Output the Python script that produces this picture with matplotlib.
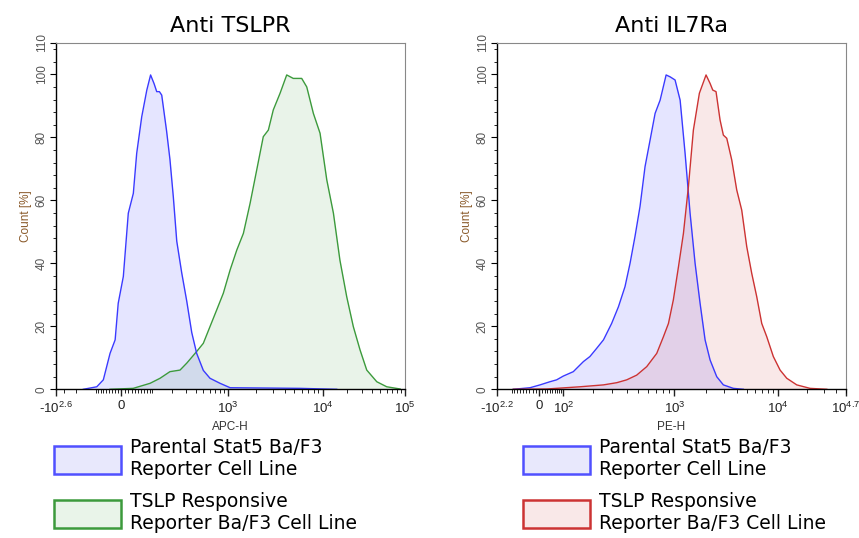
import numpy as np
import matplotlib
matplotlib.use("Agg")
import matplotlib.pyplot as plt
from matplotlib.patches import Patch
from matplotlib.ticker import FixedLocator, MultipleLocator

plt.rcParams['font.family'] = ['Liberation Sans', 'DejaVu Sans']
plt.rcParams['mathtext.fontset'] = 'custom'
plt.rcParams['mathtext.rm'] = 'Liberation Sans'

# ---- data: fluorescence intensity vs. count [%] ----
tslpr_parental_x = [-153, -86, -60, -36, -19, -9, 6.5, 20.6, 35.3, 45.5, 61.5, 79, 93, 107, 118, 130,
                    141, 166, 185, 206, 229, 266, 309, 358, 413, 500, 605, 805, 1060, 2580, 5770, 14800]
tslpr_parental_y = [0, 0.8, 3, 11.4, 15.7, 27.3, 35.8, 55.9, 62.2, 74.9, 86.5, 95, 99.8, 97, 94.5, 94.5,
                    93.4, 82, 73, 61, 47, 37, 28, 18, 11.4, 6, 3.5, 1.9, 0.5, 0.4, 0.3, 0]

tslpr_responsive_x = [-36, 35, 91, 133, 185, 253, 309, 413, 500, 605, 732, 883, 1060, 1246, 1463, 1720,
                      2020, 2370, 2680, 3020, 3560, 4180, 4900, 6010, 6790, 7970, 9370, 11200, 13500,
                      16200, 19600, 23600, 28500, 34400, 45600, 60300, 87700]
tslpr_responsive_y = [0, 0.3, 1.9, 3.5, 5.6, 6.1, 8.3, 12, 14.6, 19.9, 25.2, 30.5, 37.9, 44.2, 49.5, 59,
                      69.6, 80.2, 82.3, 88.7, 94, 99.8, 98.7, 98.7, 96, 87.6, 81.3, 66.5, 55.9,
                      41, 29.4, 19.9, 12.5, 6.1, 2.4, 0.8, 0.1]

il7ra_parental_x = [-84, -27.6, 2.6, 40, 68, 100, 129, 140, 163, 188, 217, 250, 295, 338, 385, 425, 468,
                    516, 569, 627, 691, 761, 854, 922, 1016, 1137, 1270, 1419, 1586, 1772, 1980, 2213,
                    2565, 2971, 3707, 4628]
il7ra_parental_y = [0, 0.5, 1.4, 2.4, 3, 4.2, 5.6, 6.7, 8.8, 10.4, 13, 15.7, 20.9, 26.2, 32.6, 40, 48.5,
                    58, 70.7, 79.1, 87.6, 91.8, 99.8, 99.2, 98.2, 91.8, 74.9, 55.9, 40, 27.3, 15.7, 9.3,
                    4, 1.4, 0.3, 0]

il7ra_responsive_x = [-84, 27.5, 151, 250, 327, 398, 484, 588, 713, 811, 893, 981, 1096, 1224, 1367, 1527,
                      1745, 2023, 2213, 2348, 2525, 2761, 2971, 3203, 3579, 3996, 4465, 4990, 5575,
                      6229, 6960, 7778, 9000, 10490, 12300, 15600, 21400, 31900]
il7ra_responsive_y = [0, 0.1, 0.8, 1.4, 2.1, 3, 4.5, 7.2, 11.4, 16.7, 20.9, 28.4, 38.9, 49.5, 64.3, 82.3,
                      94, 99.8, 97.1, 95, 94.5, 85.5, 80.7, 79.7, 72.8, 63.3, 56.9, 45.3, 36.8,
                      29.4, 20.9, 16.7, 10.4, 6.1, 3.5, 1.4, 0.3, 0]

# biexponential display: anchor values and where they sit along the axis (fraction of width)
tslpr_anchor_vals = [-10 ** 2.6, 0, 1e3, 1e4, 1e5]
tslpr_anchor_pos = [0, 0.1864, 0.4924, 0.7648, 1.0]
tslpr_tick_labels = [r'-$\mathregular{10^{2.6}}$', '0', r'$\mathregular{10^{3}}$',
                     r'$\mathregular{10^{4}}$', r'$\mathregular{10^{5}}$']

il7ra_anchor_vals = [-10 ** 2.2, 0, 1e2, 1e3, 1e4, 10 ** 4.7]
il7ra_anchor_pos = [0, 0.1213, 0.1901, 0.5085, 0.8059, 1.0]
il7ra_tick_labels = [r'-$\mathregular{10^{2.2}}$', '0', r'$\mathregular{10^{2}}$', r'$\mathregular{10^{3}}$',
                     r'$\mathregular{10^{4}}$', r'$\mathregular{10^{4.7}}$']

legend_labels = ['Parental Stat5 Ba/F3\nReporter Cell Line', 'TSLP Responsive\nReporter Ba/F3 Cell Line']

C = 100.0


def biex_functions(vals, pos):
    u_anchor = np.arcsinh(np.asarray(vals, float) / C)
    pos = np.asarray(pos, float)

    def fwd(x):
        return np.interp(np.arcsinh(np.asarray(x, float) / C), u_anchor, pos)

    def inv(p):
        return C * np.sinh(np.interp(np.asarray(p, float), pos, u_anchor))
    return fwd, inv


def minor_ticks(lo, hi):
    ticks = []
    for dec in [10, 100, 1000, 10000]:
        for m in range(2, 10):
            v = m * dec
            if lo < v < hi:
                ticks.append(v)
            if lo < -v < hi:
                ticks.append(-v)
    ticks += [v for v in [-50, -40, -30, -20, -10, 10, 20, 30, 40, 50, 100] if lo < v < hi]
    return sorted(set(ticks))


def draw_panel(ax, title, xlabel, curves, anchor_vals, anchor_pos, tick_labels):
    fwd, inv = biex_functions(anchor_vals, anchor_pos)
    ax.set_xscale('function', functions=(fwd, inv))

    for x, y, line_col, fill_col in curves:
        ax.fill_between(x, y, 0, color=fill_col, alpha=0.1, lw=0)
        ax.plot(x, y, color=line_col, lw=1.0)

    ax.set_xlim(anchor_vals[0], anchor_vals[-1])
    ax.set_ylim(0, 110)

    ax.xaxis.set_major_locator(FixedLocator(anchor_vals))
    ax.set_xticklabels(tick_labels)
    ax.xaxis.set_minor_locator(FixedLocator(minor_ticks(anchor_vals[0], anchor_vals[-1])))
    ax.set_yticks([0, 20, 40, 60, 80, 100, 110])
    ax.yaxis.set_minor_locator(MultipleLocator(4))

    ax.tick_params(axis='x', which='major', length=5, width=1, labelsize=9.5, colors='#222222', pad=3)
    ax.tick_params(axis='x', which='minor', length=3, width=0.6)
    ax.tick_params(axis='y', which='major', length=4, width=0.8, labelsize=8.5, labelcolor='#555555',
                   labelrotation=90, pad=2)
    ax.tick_params(axis='y', which='minor', length=2, width=0.6)
    for lbl in ax.get_yticklabels():
        lbl.set_va('center')

    for side in ['top', 'right']:
        ax.spines[side].set_color('#888888')
        ax.spines[side].set_linewidth(0.8)
    for side in ['left', 'bottom']:
        ax.spines[side].set_color('black')
        ax.spines[side].set_linewidth(1.0)

    ax.set_xlabel(xlabel, fontsize=8.5, color='#333333', labelpad=4)
    ax.set_ylabel('Count [%]', fontsize=8.5, color='#8a5a2a', labelpad=3)
    ax.set_title(title, fontsize=16, family=['DejaVu Sans'], pad=8)


fig = plt.figure(figsize=(8.59, 5.38), dpi=100)
ax1 = fig.add_axes([0.0652, 0.2764, 0.406, 0.644])
ax2 = fig.add_axes([0.5786, 0.2764, 0.406, 0.644])

blue = '#3a3aff'
green = '#3c9a3c'
red = '#cc3333'

draw_panel(ax1, 'Anti TSLPR', 'APC-H',
           [(tslpr_responsive_x, tslpr_responsive_y, green, '#2a8a2a'),
            (tslpr_parental_x, tslpr_parental_y, blue, '#0000ff')],
           tslpr_anchor_vals, tslpr_anchor_pos, tslpr_tick_labels)
draw_panel(ax2, 'Anti IL7Ra', 'PE-H',
           [(il7ra_parental_x, il7ra_parental_y, blue, '#0000ff'),
            (il7ra_responsive_x, il7ra_responsive_y, red, '#c81e1e')],
           il7ra_anchor_vals, il7ra_anchor_pos, il7ra_tick_labels)

# legends below each panel
for x0, second_col, second_fill in [(0.054, green, '#e9f4e9'), (0.600, red, '#f9e8e8')]:
    handles = [Patch(facecolor='#e8e8fc', edgecolor='#5050ff', lw=1.8),
               Patch(facecolor=second_fill, edgecolor=second_col, lw=1.8)]
    fig.legend(handles, legend_labels, loc='upper left', bbox_to_anchor=(x0, 0.2),
               frameon=False, handlelength=3.57, handleheight=1.95,
               handletextpad=0.48, labelspacing=0.7, borderaxespad=0,
               prop={'family': ['DejaVu Sans'], 'size': 13.5})

fig.savefig('out.png', dpi=100)
